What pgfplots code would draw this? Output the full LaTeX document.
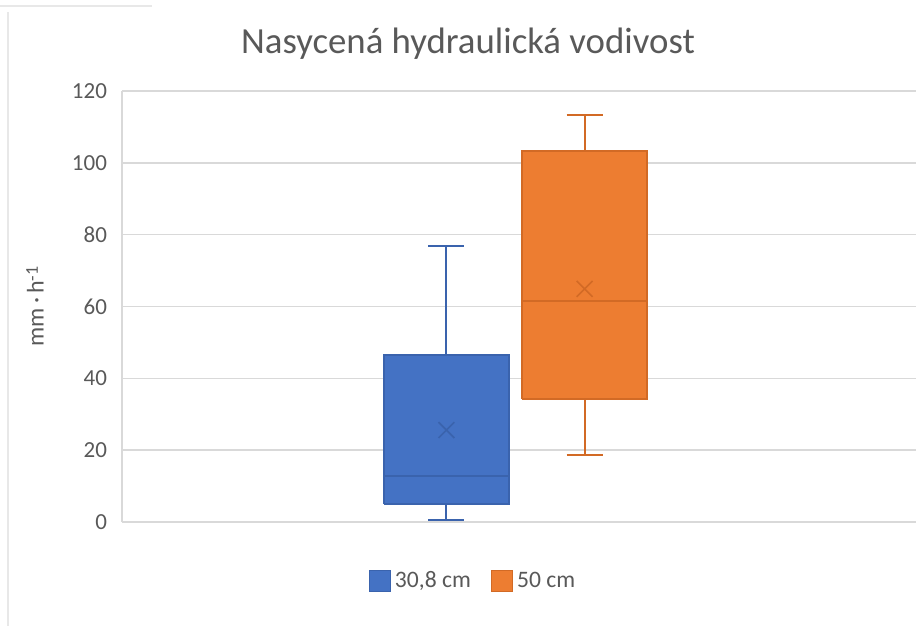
\documentclass[border=0pt]{standalone}
\usepackage{pgfplots}
\pgfplotsset{compat=1.18}
\usepackage{fontspec}
\setmainfont{Carlito}
\definecolor{bluefill}{HTML}{4472C4}
\definecolor{blueedge}{HTML}{3A63AD}
\definecolor{orfill}{HTML}{ED7D31}
\definecolor{oredge}{HTML}{D26A25}
\definecolor{txt}{HTML}{595959}
\definecolor{gridc}{HTML}{D9D9D9}
\begin{document}
\begin{tikzpicture}
\useasboundingbox (-61pt,-52pt) rectangle (399.5pt,261pt);
\draw[color=gray!18, line width=0.6pt] (-61pt,258pt) -- (15pt,258pt);
\draw[color=gray!18, line width=0.6pt] (-57pt,255pt) -- (-57pt,-52pt);
\begin{axis}[
  at={(0pt,0pt)}, anchor=south west,
  scale only axis, width=397pt, height=215.5pt,
  xmin=0, xmax=1, ymin=0, ymax=120,
  ytick={0,20,...,120}, xtick=\empty,
  axis x line=none,
  axis y line*=left,
  y axis line style={draw=gridc, line width=0.7pt, -},
  major tick length=0pt,
  ymajorgrids, grid style={draw=gridc, line width=0.7pt},
  /pgf/number format/assume math mode=true,
  yticklabel style={font=\fontsize{11.5}{13}\selectfont, text=txt, xshift=-4pt},
  title={Nasycená hydraulická vodivost},
  title style={font=\fontsize{18.4}{22}\selectfont, text=txt, at={(axis description cs:0.4358,1.06)}, anchor=base, yshift=0pt},
  ylabel={mm\,·\,h\raisebox{0.5ex}{\fontsize{9}{10}\selectfont -1}},
  ylabel style={font=\fontsize{12}{14}\selectfont, text=txt, at={(axis description cs:-0.1096,0.5)}, anchor=center},
  legend style={draw=none, fill=none, at={(axis description cs:0.4433,-0.137)}, anchor=center,
    font=\fontsize{11.8}{13}\selectfont, text=txt,
    /tikz/every even column/.append style={column sep=8pt}},
  legend columns=2,
  legend image code/.code={\draw[#1] (0pt,-5.25pt) rectangle (10.5pt,5.25pt);},
  clip=false,
]
% blue series (30,8 cm)
\addplot[forget plot, draw=blueedge, line width=1pt] coordinates {(0.4086,46.5) (0.4086,76.9)};
\addplot[forget plot, draw=blueedge, line width=1pt] coordinates {(0.3859,76.9) (0.4313,76.9)};
\addplot[forget plot, draw=blueedge, line width=1pt] coordinates {(0.4086,5.0) (0.4086,0.65)};
\addplot[forget plot, draw=blueedge, line width=1pt] coordinates {(0.3859,0.65) (0.4313,0.65)};
\addplot[forget plot, fill=bluefill, draw=blueedge, line width=0.7pt]
  coordinates {(0.3298,5.0) (0.4874,5.0) (0.4874,46.5) (0.3298,46.5) (0.3298,5.0)};
\addplot[forget plot, draw=blueedge, line width=0.8pt] coordinates {(0.3298,12.8) (0.4874,12.8)};
\addplot[forget plot, only marks, mark=x, mark size=5.6pt, draw=blueedge, mark options={line width=0.8pt}]
  coordinates {(0.4086,25.6)};
% orange series (50 cm)
\addplot[forget plot, draw=oredge, line width=1pt] coordinates {(0.5826,103.3) (0.5826,113.2)};
\addplot[forget plot, draw=oredge, line width=1pt] coordinates {(0.5599,113.2) (0.6053,113.2)};
\addplot[forget plot, draw=oredge, line width=1pt] coordinates {(0.5826,34.2) (0.5826,18.7)};
\addplot[forget plot, draw=oredge, line width=1pt] coordinates {(0.5599,18.7) (0.6053,18.7)};
\addplot[forget plot, fill=orfill, draw=oredge, line width=0.7pt]
  coordinates {(0.5038,34.2) (0.6614,34.2) (0.6614,103.3) (0.5038,103.3) (0.5038,34.2)};
\addplot[forget plot, draw=oredge, line width=0.8pt] coordinates {(0.5038,61.5) (0.6614,61.5)};
\addplot[forget plot, only marks, mark=x, mark size=5.6pt, draw=oredge, mark options={line width=0.8pt}]
  coordinates {(0.5826,64.9)};
\addlegendimage{fill=bluefill, draw=blueedge, line width=0.6pt}
\addlegendentry{30,8 cm}
\addlegendimage{fill=orfill, draw=oredge, line width=0.6pt}
\addlegendentry{50 cm}
\end{axis}
\end{tikzpicture}
\end{document}
